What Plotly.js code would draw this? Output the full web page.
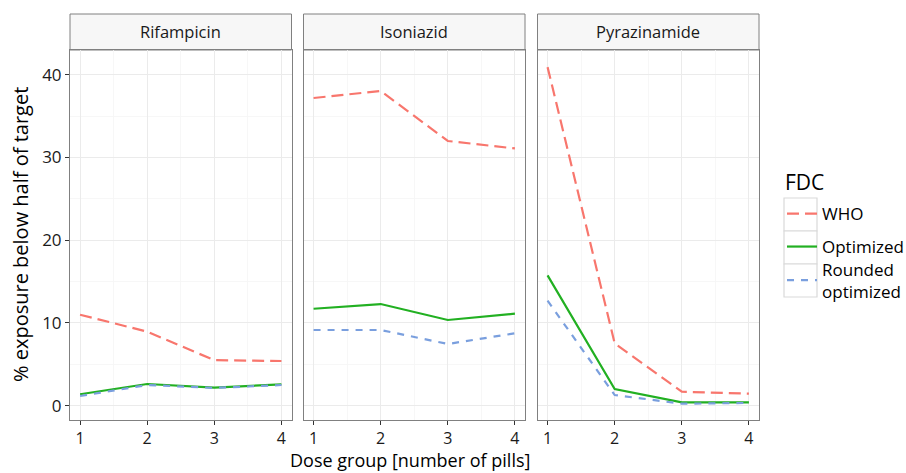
<!DOCTYPE html>
<html>
<head>
<meta charset="utf-8">
<script src="https://cdn.plot.ly/plotly-3.0.1.min.js"></script>
<style>html,body{margin:0;padding:0;background:#fff;}#chart{width:906px;height:473px;}</style>
</head>
<body>
<div id="chart"></div>
<script>
// ---- data ----
const doseGroups = [1, 2, 3, 4];
const drugs = ["Rifampicin", "Isoniazid", "Pyrazinamide"];
const seriesNames = ["WHO", "Optimized", "Rounded<br>optimized"];

const rifWHO = [11.0, 8.95, 5.5, 5.4];
const rifOpt = [1.38, 2.62, 2.18, 2.58];
const rifRnd = [1.17, 2.5, 2.15, 2.5];

const inhWHO = [37.2, 38.05, 32.0, 31.1];
const inhOpt = [11.72, 12.29, 10.36, 11.12];
const inhRnd = [9.15, 9.15, 7.46, 8.75];

const pzaWHO = [40.93, 7.54, 1.69, 1.45];
const pzaOpt = [15.76, 2.02, 0.41, 0.41];
const pzaRnd = [12.69, 1.29, 0.24, 0.33];

const yTicks = [0, 10, 20, 30, 40];

// ---- styles ----
const colors = ["#F8766D", "#22B022", "#7A9FDE"];
const dashes = ["12px,6px", "solid", "7px,7px"];
const font = "Open Sans, Noto Sans, sans-serif";
const legendIds = ["legend", "legend2", "legend3"];

const panelData = [[rifWHO, rifOpt, rifRnd], [inhWHO, inhOpt, inhRnd], [pzaWHO, pzaOpt, pzaRnd]];

const traces = [];
panelData.forEach((series, p) => {
  series.forEach((vals, s) => {
    traces.push({
      x: doseGroups, y: vals, type: "scatter", mode: "lines",
      name: seriesNames[s], legendgroup: "g" + s, showlegend: p === 0,
      legend: legendIds[s],
      xaxis: p === 0 ? "x" : "x" + (p + 1),
      yaxis: p === 0 ? "y" : "y" + (p + 1),
      line: {color: colors[s], width: 2.2, dash: dashes[s]},
      hoverinfo: "skip"
    });
  });
});

const W = 906, H = 473;
const xDom = [[70 / W, 291.5 / W], [303.5 / W, 525 / W], [537.5 / W, 759 / W]];
const yDom = [1 - 420 / H, 1 - 50 / H];
const stripTop = 1 - 14 / H;

function xAx(i) {
  return {
    domain: xDom[i], range: [0.85, 4.15], anchor: i === 0 ? "y" : "y" + (i + 1),
    tickvals: doseGroups, ticktext: doseGroups.map(String),
    ticks: "outside", ticklen: 4, tickwidth: 1, tickcolor: "#333",
    tickfont: {family: font, size: 16, color: "#1a1a1a"},
    showgrid: true, gridcolor: "#EBEBEB", gridwidth: 1,
    minor: {showgrid: true, gridcolor: "#F5F5F5", gridwidth: 0.8, tickvals: [1.5, 2.5, 3.5]},
    zeroline: false, showline: true, mirror: true, linecolor: "#808080", linewidth: 1,
    fixedrange: true
  };
}
function yAx(i) {
  return {
    domain: yDom, range: [-1.73, 43.0], anchor: i === 0 ? "x" : "x" + (i + 1),
    tickvals: yTicks, ticktext: yTicks.map(String),
    showticklabels: i === 0,
    ticks: i === 0 ? "outside" : "", ticklen: 4, tickwidth: 1, tickcolor: "#333",
    tickfont: {family: font, size: 17, color: "#1a1a1a"},
    showgrid: true, gridcolor: "#EBEBEB", gridwidth: 1,
    minor: {showgrid: true, gridcolor: "#F5F5F5", gridwidth: 0.8, tickvals: [5, 15, 25, 35]},
    zeroline: false, showline: true, mirror: true, linecolor: "#808080", linewidth: 1,
    fixedrange: true
  };
}

const shapes = [];
const annotations = [];
drugs.forEach((d, i) => {
  shapes.push({type: "rect", xref: "paper", yref: "paper", x0: xDom[i][0], x1: xDom[i][1],
    y0: yDom[1], y1: stripTop, fillcolor: "#F7F7F7", line: {color: "#808080", width: 1}, layer: "below"});
  annotations.push({xref: "paper", yref: "paper", x: (xDom[i][0] + xDom[i][1]) / 2,
    y: (yDom[1] + stripTop) / 2, text: d, showarrow: false, xanchor: "center", yanchor: "middle",
    font: {family: font, size: 16.5, color: "#1a1a1a"}});
});
// legend key boxes
[[198, 231], [231, 264], [264, 297]].forEach(b => {
  shapes.push({type: "rect", xref: "paper", yref: "paper", x0: 784 / W, x1: 817 / W,
    y0: 1 - b[1] / H, y1: 1 - b[0] / H, fillcolor: "#FFFFFF", line: {color: "#D9D9D9", width: 1.2}, layer: "below"});
});
annotations.push({xref: "paper", yref: "paper", x: 410 / W, y: 0, text: "Dose group [number of pills]",
  showarrow: false, xanchor: "center", yanchor: "bottom", borderpad: 0, font: {family: font, size: 18, color: "#000"}});
annotations.push({xref: "paper", yref: "paper", x: 21 / W, y: (yDom[0] + yDom[1]) / 2, text: "% exposure below half of target",
  showarrow: false, textangle: -90, xanchor: "center", yanchor: "middle", font: {family: font, size: 20, color: "#000"}});
annotations.push({xref: "paper", yref: "paper", x: 783 / W, y: 1 - 182 / H, text: "FDC",
  showarrow: false, xanchor: "left", yanchor: "middle", font: {family: font, size: 21, color: "#000"}});

function leg(yc) {
  return {x: 782 / W, y: 1 - yc / H, xanchor: "left", yanchor: "middle",
    font: {family: font, size: 17, color: "#000"}, bgcolor: "rgba(0,0,0,0)", itemwidth: 30};
}

const layout = {
  width: W, height: H, margin: {l: 0, r: 0, t: 0, b: 0, autoexpand: false},
  paper_bgcolor: "#fff", plot_bgcolor: "#fff",
  font: {family: font, color: "#1a1a1a"},
  xaxis: xAx(0), xaxis2: xAx(1), xaxis3: xAx(2),
  yaxis: yAx(0), yaxis2: yAx(1), yaxis3: yAx(2),
  shapes: shapes, annotations: annotations,
  showlegend: true,
  legend: leg(214), legend2: leg(247), legend3: leg(280.5)
};

Plotly.newPlot("chart", traces, layout, {staticPlot: true, displayModeBar: false});
</script>
</body>
</html>
